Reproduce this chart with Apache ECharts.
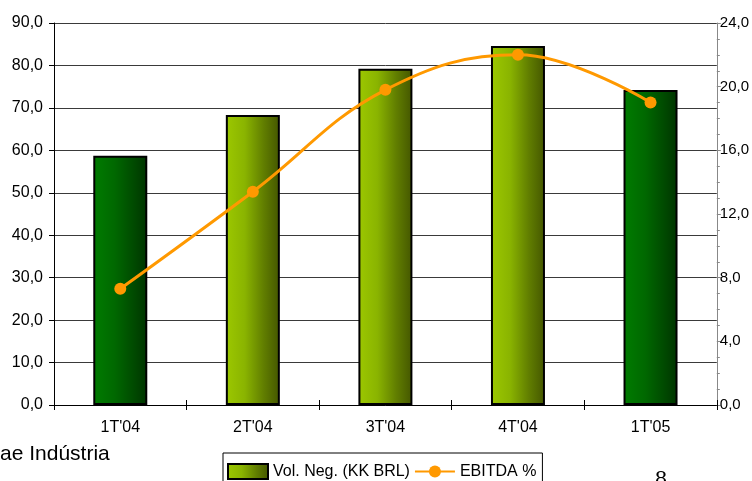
<!DOCTYPE html>
<html>
<head>
<meta charset="utf-8">
<script src="https://cdn.jsdelivr.net/npm/echarts@6/dist/echarts.min.js"></script>
<style>
  html, body { margin: 0; padding: 0; background: #fff; }
  #chart { width: 752px; height: 481px; }
</style>
</head>
<body>
<div id="chart"></div>
<script>
// Quarterly traded volume (bars, left axis) and EBITDA margin (line, right axis)
const categories = ["1T'04", "2T'04", "3T'04", "4T'04", "1T'05"];
const volumeValues = [58.7, 68.3, 79.2, 84.6, 74.2];
const ebitdaValues = [7.3, 13.4, 19.8, 22.0, 19.0];
// Quarters drawn in dark green instead of yellow-green
const darkQuarters = ["1T'04", "1T'05"];

const FONT = 'Liberation Sans, Arial, sans-serif';
const fmt = v => v.toFixed(1).replace('.', ',');

function hGrad(stops) {
  return new echarts.graphic.LinearGradient(0, 0, 1, 0,
    stops.map(([o, c]) => ({ offset: o, color: c })));
}
const lightGreen = hGrad([[0, '#9cc800'], [0.35, '#8ab400'], [0.7, '#617e00'], [1, '#445600']]);
const darkGreen = hGrad([[0, '#007c00'], [0.4, '#006800'], [0.75, '#004a00'], [1, '#003400']]);

const chart = echarts.init(document.getElementById('chart'), null, { renderer: 'canvas' });
chart.setOption({
  animation: false,
  backgroundColor: '#ffffff',
  textStyle: { fontFamily: FONT },
  grid: { left: 54, right: 35, top: 23, bottom: 76, containLabel: false },
  legend: {
    left: 223, top: 453,
    padding: [10, 6, 12, 4],
    borderColor: '#000', borderWidth: 1,
    itemWidth: 40, itemHeight: 15, itemGap: 4,
    textStyle: { fontFamily: FONT, fontSize: 16, color: '#000' },
    data: [{ name: 'Vol. Neg. (KK BRL)', icon: 'rect' }, { name: 'EBITDA %' }]
  },
  xAxis: [
    {
      type: 'category',
      data: categories,
      axisLine: { lineStyle: { color: '#000', width: 1 } },
      axisTick: { show: true, length: 5, lineStyle: { color: '#000' } },
      axisLabel: { color: '#000', fontSize: 16, margin: 15, fontFamily: FONT },
      splitLine: { show: false }
    },
    {
      // inner half of the category ticks, so they cross the baseline
      type: 'category',
      data: categories,
      position: 'bottom',
      axisLine: { show: false },
      axisTick: { show: true, inside: true, length: 5, lineStyle: { color: '#000' } },
      axisLabel: { show: false },
      splitLine: { show: false }
    }
  ],
  yAxis: [
    {
      type: 'value', min: 0, max: 90, interval: 10,
      axisLine: { show: true, lineStyle: { color: '#000' } },
      axisTick: { show: true, length: 5, lineStyle: { color: '#000' } },
      axisLabel: { color: '#000', fontSize: 16, margin: 11, formatter: fmt, fontFamily: FONT },
      splitLine: { show: true, lineStyle: { color: '#3a3a3a', width: 1 } }
    },
    {
      type: 'value', min: 0, max: 24, interval: 4, position: 'right',
      axisLine: { show: true, lineStyle: { color: '#888' } },
      axisTick: { show: true, length: 4, lineStyle: { color: '#888' } },
      minorTick: { show: true, splitNumber: 4, length: 3, lineStyle: { color: '#888' } },
      axisLabel: { color: '#000', fontSize: 15, margin: 3, formatter: fmt, fontFamily: FONT },
      splitLine: { show: false }
    }
  ],
  series: [
    {
      name: 'Vol. Neg. (KK BRL)',
      type: 'bar',
      xAxisIndex: 0,
      yAxisIndex: 0,
      barWidth: 54,
      itemStyle: { color: lightGreen, borderColor: '#000', borderWidth: 2 },
      data: volumeValues.map((v, i) => darkQuarters.includes(categories[i])
        ? { value: v, itemStyle: { color: darkGreen } }
        : v),
      z: 2
    },
    {
      name: 'EBITDA %',
      type: 'line',
      xAxisIndex: 0,
      yAxisIndex: 1,
      smooth: 0.4,
      data: ebitdaValues,
      symbol: 'circle',
      symbolSize: 12,
      lineStyle: { color: '#ff9900', width: 3 },
      itemStyle: { color: '#ff9900' },
      z: 3
    }
  ],
  graphic: [
    {
      type: 'text', left: 0, top: 444,
      style: { text: 'ae Indústria', fontFamily: FONT, fontSize: 21, fill: '#000' }
    },
    {
      type: 'text', left: 655, top: 468,
      style: { text: '8', fontFamily: 'Liberation Serif, serif', fontSize: 24, fill: '#000' }
    }
  ]
});
</script>
</body>
</html>
